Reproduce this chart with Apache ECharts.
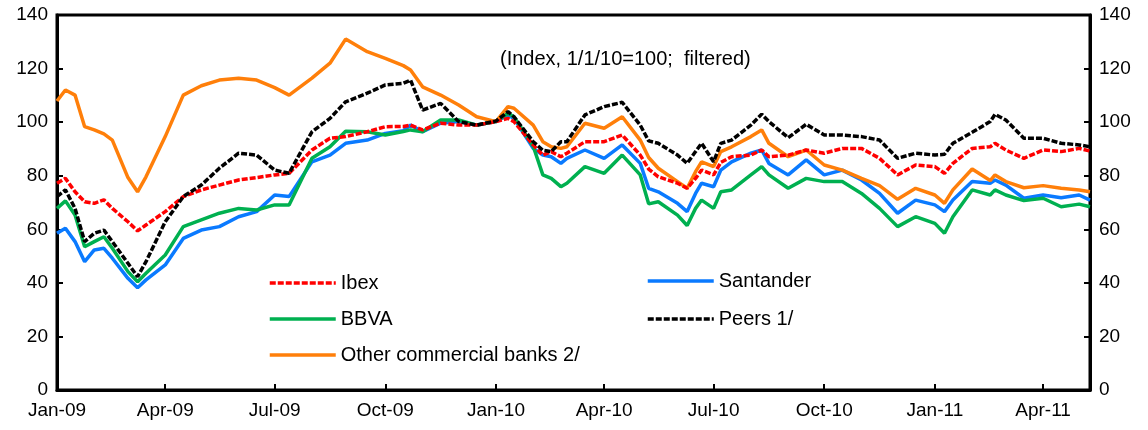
<!DOCTYPE html>
<html>
<head>
<meta charset="utf-8">
<script src="https://cdn.jsdelivr.net/npm/echarts@6/dist/echarts.min.js"></script>
<style>
  html, body { margin: 0; padding: 0; background: #fff; }
  #chart { width: 1148px; height: 430px; }
</style>
</head>
<body>
<div id="chart"></div>
<script>
var dates = [
  '2009-01-01', '2009-01-08', '2009-01-16', '2009-01-24', '2009-02-01', '2009-02-09', '2009-02-16',
  '2009-03-01', '2009-03-09', '2009-03-16', '2009-04-01', '2009-04-16', '2009-05-01', '2009-05-16',
  '2009-06-01', '2009-06-16', '2009-07-01', '2009-07-13', '2009-08-01', '2009-08-16', '2009-08-29',
  '2009-09-16', '2009-10-01', '2009-10-16', '2009-10-22', '2009-11-01', '2009-11-16', '2009-12-01',
  '2009-12-16', '2010-01-01', '2010-01-11', '2010-01-16', '2010-02-01', '2010-02-09', '2010-02-16',
  '2010-02-24', '2010-03-01', '2010-03-16', '2010-04-01', '2010-04-16', '2010-05-01', '2010-05-08',
  '2010-05-16', '2010-06-01', '2010-06-09', '2010-06-16', '2010-06-21', '2010-07-01', '2010-07-07',
  '2010-07-16', '2010-08-01', '2010-08-10', '2010-08-16', '2010-09-01', '2010-09-16', '2010-10-01',
  '2010-10-16', '2010-11-01', '2010-11-16', '2010-12-01', '2010-12-16', '2011-01-01', '2011-01-09',
  '2011-01-16', '2011-02-01', '2011-02-16', '2011-02-20', '2011-03-01', '2011-03-16', '2011-04-01',
  '2011-04-16', '2011-05-01', '2011-05-10'
];

var ibex = [
  77.2, 79, 74, 70.3, 69.7, 71, 67.8, 62.8, 59.4, 61.6, 66.6, 72.2, 74.7, 76.5,
  78.4, 79.3, 80.3, 80.9, 89.6, 94, 94.6, 96.4, 98.3, 98.4, 98.9, 97.1, 99.6, 98.9,
  98.9, 100.2, 101.4, 100.2, 91.5, 87.7, 89, 87.1, 88.4, 92.7, 92.7, 95.2, 87.7, 82.5,
  79.6, 77.2, 75.3, 79, 82.1, 80.3, 85, 87.1, 87.7, 89.6, 87.1, 87.7, 89.6, 88.4,
  90.2, 90.2, 86.5, 80.3, 84, 83.4, 80.9, 84.6, 90.2, 90.8, 92.1, 89.6, 86.5, 89.6,
  89, 90.2, 89.2
];

var santander = [
  58.5, 60.4, 55.4, 47.9, 52.3, 52.9, 49.2, 41.7, 38.2, 41.1, 46.7, 56.6, 59.7, 61,
  64.7, 66.6, 72.8, 72.2, 85.2, 87.7, 92.1, 93.3, 95.8, 96.8, 98.9, 96.4, 99.6, 100.2,
  98.9, 100.2, 102.7, 101.4, 90.2, 87.7, 87.1, 84.6, 86.5, 89.6, 86.5, 91.5, 84.6, 75.3,
  74, 69.7, 66.6, 73.4, 77.2, 75.9, 82.1, 85.2, 88.4, 89.6, 84.6, 80.3, 85.9, 80.3,
  82.1, 78.4, 73.4, 66, 70.9, 69.1, 66.6, 70.9, 77.8, 77.2, 78.4, 76.5, 71.6, 72.8,
  71.8, 72.8, 70.9
];

var bbva = [
  67.8, 70.6, 65.3, 53.5, 55.4, 57.2, 52.9, 44.2, 40.4, 43.6, 50.4, 61, 63.5, 66,
  67.8, 67.2, 69.1, 69.1, 86.5, 90.8, 96.6, 96.4, 95.2, 96.5, 97.1, 96.4, 100.8, 100.8,
  98.9, 100.2, 103.3, 102, 91, 80.3, 79, 75.9, 77.2, 83.4, 80.9, 87.7, 80.3, 69.5,
  70.3, 65.3, 61.4, 67.8, 70.9, 67.8, 74, 74.7, 80.3, 83.4, 80.3, 75.3, 79, 77.8,
  77.8, 73.4, 67.8, 61, 64.7, 62.2, 58.5, 64.7, 74.7, 72.8, 74.7, 72.8, 70.7, 71.6,
  68.4, 69.4, 68.4
];

var peers = [
  72.2, 74.7, 67.8, 55.4, 58.5, 59.7, 55.4, 47.3, 42.3, 47.9, 62.8, 72.2, 76.5, 82.8,
  88.4, 87.7, 82.1, 80.9, 96.4, 101.4, 107.6, 110.8, 113.9, 114.5, 115.7, 104.5, 107, 100.2,
  98.9, 100.4, 103.9, 102, 92.7, 89.5, 89, 92.7, 92.7, 102.7, 105.8, 107.4, 98.9, 93,
  92.1, 87.7, 84.6, 89, 92.1, 85.2, 92.1, 93.3, 98.9, 103, 100.2, 94.2, 99.2, 95.2,
  95.2, 94.6, 93.3, 86.5, 88.4, 87.7, 88, 92.1, 96.2, 100.2, 102.9, 100.8, 94, 94,
  92.1, 91.5, 90.8
];

var others = [
  107.9, 112, 110.1, 98.3, 97.1, 95.6, 93.3, 79.3, 74, 79.6, 94.6, 110.1, 113.6, 115.7,
  116.4, 115.7, 112.9, 110.1, 116.4, 122, 131, 126.3, 123.8, 121.1, 119.5, 113.2, 110.1, 106.4,
  102, 100.2, 105.8, 105.2, 98.9, 92.7, 90.8, 90.2, 90.8, 99.6, 97.7, 102, 93.3, 86.8,
  82.8, 77.8, 75.3, 81.5, 85.2, 83.4, 89, 90.8, 94.6, 97.1, 92.1, 87.1, 89.6, 84,
  82.1, 79, 76.3, 71.2, 75.3, 72.8, 69.7, 74.7, 82.5, 78.2, 80.3, 77.8, 75.5, 76.3,
  75.3, 74.7, 74
];

var monthNames = ['Jan', 'Feb', 'Mar', 'Apr', 'May', 'Jun', 'Jul', 'Aug', 'Sep', 'Oct', 'Nov', 'Dec'];

function pairs(vals) {
  return dates.map(function(d, i) { return [d, vals[i]]; });
}

var font = 'Arial, "Liberation Sans", sans-serif';
var DAY = 86400000;

var chart = echarts.init(document.getElementById('chart'), null, { renderer: 'canvas' });

function yAxis(pos) {
  return {
    type: 'value',
    position: pos,
    min: 0,
    max: 140,
    interval: 20,
    axisLine: { show: true, lineStyle: { color: '#000', width: 3 } },
    axisTick: { show: true, inside: true, length: 6, lineStyle: { color: '#000', width: 2 } },
    axisLabel: { color: '#000', fontSize: 19, fontFamily: font, margin: 9 },
    splitLine: { show: false }
  };
}

function line(name, vals, color, dashed) {
  return {
    name: name,
    type: 'line',
    data: pairs(vals),
    symbol: 'none',
    showSymbol: false,
    yAxisIndex: 0,
    lineStyle: { color: color, width: 3.5, type: dashed ? [6, 2] : 'solid' },
    itemStyle: { color: color }
  };
}

function legend(names, top, gap) {
  return {
    data: names,
    orient: 'vertical',
    left: names[0] === 'Ibex' ? 268 : 646,
    top: top,
    padding: 0,
    itemWidth: 66,
    itemHeight: 14,
    itemGap: gap,
    itemStyle: { opacity: 0 },
    lineStyle: { width: 3.5 },
    textStyle: { color: '#000', fontSize: 20, fontFamily: font, lineHeight: 20 }
  };
}

chart.setOption({
  animation: false,
  backgroundColor: '#fff',
  title: {
    text: '(Index, 1/1/10=100;  filtered)',
    left: 500,
    top: 49,
    padding: 0,
    textStyle: { color: '#000', fontSize: 20, fontWeight: 'normal', fontFamily: font }
  },
  grid: {
    left: 57, right: 58, top: 15, bottom: 40,
    show: true, borderColor: '#000', borderWidth: 3
  },
  legend: [
    legend(['Ibex', 'BBVA', 'Other commercial banks 2/'], 273, 16),
    legend(['Santander', 'Peers 1/'], 271, 18)
  ],
  xAxis: {
    type: 'time',
    min: '2009-01-01',
    max: '2011-05-10',
    minInterval: 93 * DAY,
    maxInterval: 93 * DAY,
    axisLine: { show: true, lineStyle: { color: '#000', width: 3 } },
    axisTick: { show: true, inside: true, length: 6, lineStyle: { color: '#000', width: 2 } },
    axisLabel: {
      color: '#000', fontSize: 19, fontFamily: font, margin: 11,
      showMinLabel: true,
      formatter: function(v) {
        var d = new Date(v);
        return monthNames[d.getMonth()] + '-' + String(d.getFullYear()).slice(2);
      }
    },
    splitLine: { show: false }
  },
  yAxis: [yAxis('left'), yAxis('right')],
  series: [
    line('Santander', santander, '#0A7AFF', false),
    line('BBVA', bbva, '#00B050', false),
    line('Other commercial banks 2/', others, '#FF7F0A', false),
    line('Ibex', ibex, '#FF0000', true),
    line('Peers 1/', peers, '#000000', true)
  ]
});
</script>
</body>
</html>
